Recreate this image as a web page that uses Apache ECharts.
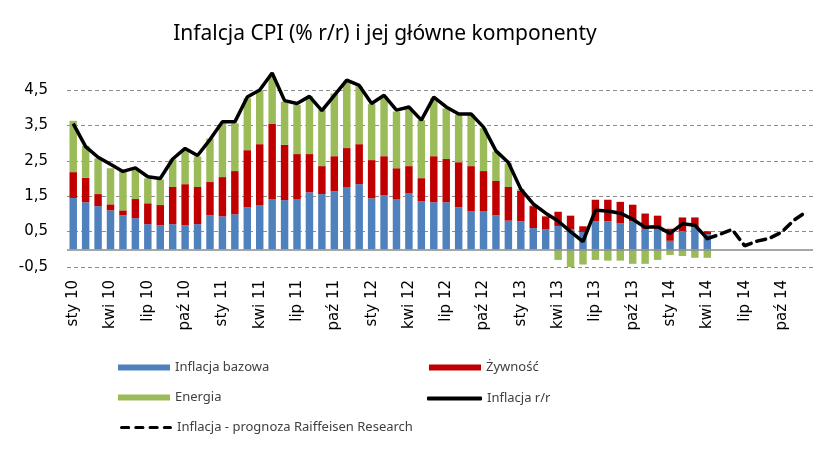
<!DOCTYPE html>
<html>
<head>
<meta charset="utf-8">
<script src="https://cdn.jsdelivr.net/npm/echarts@6/dist/echarts.min.js"></script>
<style>
html,body{margin:0;padding:0;background:#fff;}
#chart{width:836px;height:450px;}
</style>
</head>
<body>
<div id="chart"></div>
<script>
// Categories: Jan 2010 – Dec 2014
const categories = [
 'sty 10','lut 10','mar 10','kwi 10','maj 10','cze 10','lip 10','sie 10','wrz 10','paź 10','lis 10','gru 10',
 'sty 11','lut 11','mar 11','kwi 11','maj 11','cze 11','lip 11','sie 11','wrz 11','paź 11','lis 11','gru 11',
 'sty 12','lut 12','mar 12','kwi 12','maj 12','cze 12','lip 12','sie 12','wrz 12','paź 12','lis 12','gru 12',
 'sty 13','lut 13','mar 13','kwi 13','maj 13','cze 13','lip 13','sie 13','wrz 13','paź 13','lis 13','gru 13',
 'sty 14','lut 14','mar 14','kwi 14','maj 14','cze 14','lip 14','sie 14','wrz 14','paź 14','lis 14','gru 14'
];

// Inflacja bazowa (core)
const bazowa = [
 1.45,1.33,1.22,1.10,0.96,0.88,0.71,0.68,0.71,0.68,0.71,0.96,
 0.93,0.99,1.19,1.25,1.42,1.39,1.42,1.61,1.56,1.64,1.76,1.84,
 1.44,1.53,1.42,1.59,1.36,1.33,1.33,1.19,1.08,1.08,0.96,0.81,
 0.79,0.60,0.56,0.66,0.56,0.49,0.79,0.79,0.73,0.79,0.58,0.58,
 0.24,0.51,0.62,0.43,null,null,null,null,null,null,null,null
];

// Żywność (food) contribution
const zywnosc = [
 0.73,0.69,0.34,0.17,0.14,0.54,0.59,0.57,1.05,1.16,1.05,0.94,
 1.11,1.22,1.61,1.72,2.12,1.56,1.27,1.08,0.79,0.99,1.10,1.13,
 1.08,1.10,0.87,0.76,0.65,1.30,1.22,1.27,1.27,1.13,0.97,0.95,
 0.86,0.62,0.37,0.40,0.39,0.16,0.61,0.61,0.61,0.47,0.43,0.37,
 0.34,0.39,0.28,0.08,null,null,null,null,null,null,null,null
];

// Energia (energy) contribution
const energia = [
 1.45,0.90,1.01,1.02,1.15,0.84,0.70,0.72,0.78,0.96,0.86,1.23,
 1.52,1.35,1.47,1.52,1.34,1.22,1.39,1.63,1.59,1.77,1.88,1.63,
 1.58,1.69,1.60,1.63,1.64,1.64,1.43,1.34,1.46,1.21,0.83,0.67,
 0.05,0.02,0.00,-0.30,-0.50,-0.43,-0.30,-0.32,-0.32,-0.41,-0.41,-0.30,
 -0.16,-0.19,-0.24,-0.24,null,null,null,null,null,null,null,null
];

// Inflacja r/r (CPI)
const inflacja = [
 3.55,2.9,2.6,2.4,2.2,2.3,2.05,2.0,2.55,2.85,2.65,3.1,
 3.6,3.6,4.3,4.5,4.98,4.2,4.12,4.32,3.92,4.35,4.78,4.63,
 4.12,4.35,3.93,4.02,3.65,4.3,4.02,3.82,3.82,3.45,2.78,2.45,
 1.7,1.28,1.02,0.8,0.5,0.22,1.1,1.08,1.02,0.85,0.62,0.64,
 0.45,0.72,0.68,0.3,null,null,null,null,null,null,null,null
];

// Inflacja – prognoza Raiffeisen Research (forecast)
const prognoza = [
 null,null,null,null,null,null,null,null,null,null,null,null,
 null,null,null,null,null,null,null,null,null,null,null,null,
 null,null,null,null,null,null,null,null,null,null,null,null,
 null,null,null,null,null,null,null,null,null,null,null,null,
 null,null,null,0.3,0.42,0.56,0.1,0.23,0.31,0.49,0.83,1.07
];

const yTickLabels = ['-0,5','0,5','1,5','2,5','3,5','4,5'];

const FONT = 'Noto Sans';
const AXIS_FONT = 'DejaVu Sans';
const chart = echarts.init(document.getElementById('chart'), null, {renderer:'canvas'});

const dashIcon = 'path://M1.5,0h7a1.5,1.5 0 0 1 0,3h-7a1.5,1.5 0 0 1 0,-3z' +
  'M15.5,0h7a1.5,1.5 0 0 1 0,3h-7a1.5,1.5 0 0 1 0,-3z' +
  'M29.5,0h7a1.5,1.5 0 0 1 0,3h-7a1.5,1.5 0 0 1 0,-3z' +
  'M43.5,0h6a1.5,1.5 0 0 1 0,3h-6a1.5,1.5 0 0 1 0,-3z';

function legendAt(name, left, top, icon, w, h) {
  return {
    show: true, left: left, top: top, orient: 'horizontal',
    data: [{name: name, icon: icon}],
    itemWidth: w, itemHeight: h, itemGap: 6,
    selectedMode: false,
    textStyle: {fontFamily: FONT, fontSize: 13, color: '#404040'}
  };
}

chart.setOption({
  animation: false,
  title: {
    text: 'Infalcja CPI (% r/r) i jej główne komponenty',
    left: 380, top: 19, textAlign: 'center',
    textStyle: {fontFamily: FONT, fontSize: 21, fontWeight: 'normal', color: '#000'}
  },
  legend: [
    legendAt('Inflacja bazowa', 113, 356, 'rect', 52, 6),
    legendAt('Żywność', 424, 356, 'rect', 52, 6),
    legendAt('Energia', 113, 386, 'rect', 52, 6),
    legendAt('Inflacja r/r', 422, 387, 'roundRect', 55, 4),
    legendAt('Inflacja - prognoza Raiffeisen Research', 115, 416, dashIcon, 52, 3.5)
  ],
  grid: {left: 67, right: 23, top: 90, bottom: 183, containLabel: false},
  xAxis: {
    type: 'category',
    data: categories,
    boundaryGap: true,
    axisLine: {show: false, onZero: false},
    axisTick: {show: false},
    axisLabel: {
      interval: 2, rotate: 90, margin: 13,
      fontFamily: AXIS_FONT, fontSize: 15, color: '#000'
    },
    splitLine: {show: false}
  },
  yAxis: {
    type: 'value',
    min: -0.5, max: 4.5, interval: 1,
    axisLine: {show: false},
    axisTick: {show: false},
    axisLabel: {
      margin: 19, fontFamily: AXIS_FONT, fontSize: 15, color: '#000',
      formatter: function (v) {
        const i = Math.round(v + 0.5);
        return yTickLabels[i] !== undefined ? yTickLabels[i] : '';
      }
    },
    splitLine: {show: true, lineStyle: {color: '#8c8c8c', type: [4, 3], width: 1}}
  },
  series: [
    {
      name: 'Inflacja bazowa', type: 'bar', stack: 'cpi', data: bazowa,
      barCategoryGap: '40%', clip: false,
      itemStyle: {color: '#4F81BD'},
      markLine: {
        silent: true, symbol: 'none', label: {show: false},
        lineStyle: {color: '#8a8a8a', type: 'solid', width: 1.5},
        data: [{yAxis: 0}]
      }
    },
    {
      name: 'Żywność', type: 'bar', stack: 'cpi', data: zywnosc,
      clip: false, itemStyle: {color: '#C00000'}
    },
    {
      name: 'Energia', type: 'bar', stack: 'cpi', data: energia,
      clip: false, itemStyle: {color: '#9BBB59'}
    },
    {
      name: 'Inflacja r/r', type: 'line', data: inflacja,
      symbol: 'none', clip: false, z: 5,
      lineStyle: {color: '#000', width: 3.5},
      itemStyle: {color: '#000'}
    },
    {
      name: 'Inflacja - prognoza Raiffeisen Research', type: 'line', data: prognoza,
      symbol: 'none', clip: false, z: 5,
      lineStyle: {color: '#000', width: 3.5, type: [9, 6], cap: 'round'},
      itemStyle: {color: '#000'}
    }
  ]
});
</script>
</body>
</html>
